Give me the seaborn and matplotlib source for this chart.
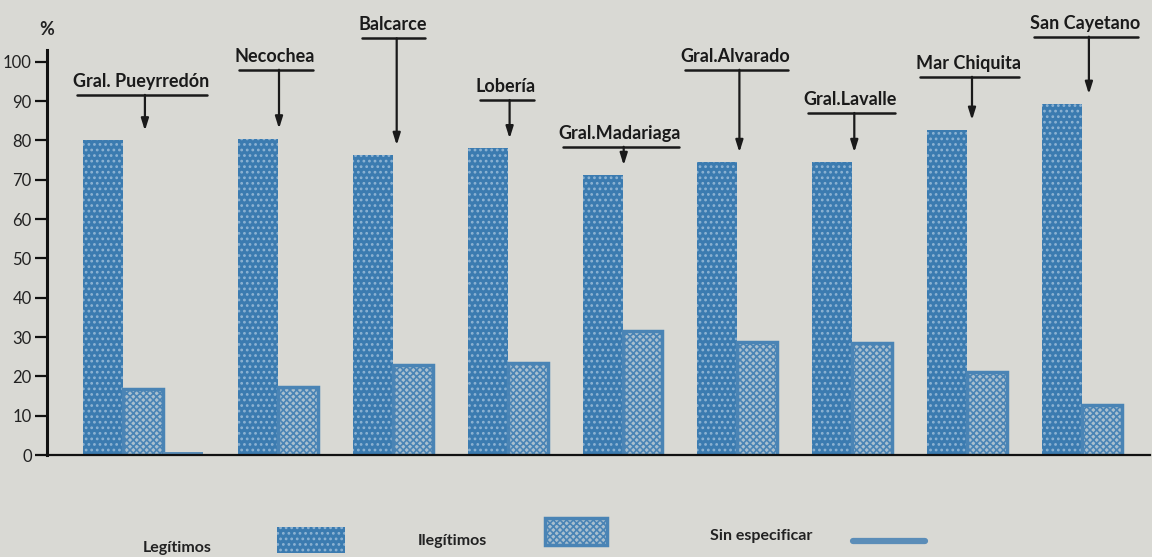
import numpy as np
import pandas as pd
import matplotlib.pyplot as plt
import seaborn as sns
from matplotlib.patches import Rectangle
from matplotlib.lines import Line2D

# datos (porcentaje de nacimientos)
partidos = ["Gral. Pueyrredón", "Necochea", "Balcarce", "Lobería", "Gral.Madariaga",
            "Gral.Alvarado", "Gral.Lavalle", "Mar Chiquita", "San Cayetano"]
legitimos = [80.0, 80.5, 76.3, 78.0, 71.2, 74.5, 74.5, 82.7, 89.3]
ilegitimos = [16.8, 17.3, 22.9, 23.4, 31.5, 28.7, 28.5, 21.0, 12.7]
sin_especificar = [0.8, None, None, None, None, None, None, None, None]
series = ["Legítimos", "Ilegítimos", "Sin especificar"]
y_ticks = [0, 10, 20, 30, 40, 50, 60, 70, 80, 90, 100]

# layout de las etiquetas (altura de la raya, desplazamiento de la flecha)
label_y = [91.6, 98.0, 106.0, 90.3, 78.4, 98.0, 87.0, 96.2, 106.4]
arrow_off = [1.55, 1.03, 1.1, 1.05, 1.03, 1.05, 1.05, 1.12, 1.17]
gap = 0.875

# armar tabla larga: cada barra ocupa un casillero, los grupos solo
# reservan lugar para las series que tienen dato
rows = []
starts = []
start = 0.0
for i, p in enumerate(partidos):
    starts.append(start)
    vals = [legitimos[i], ilegitimos[i], sin_especificar[i]]
    k = 0
    for s, v in zip(series, vals):
        if v is None:
            continue
        rows.append({"partido": p, "serie": s, "valor": v, "pos": start + k + 0.5})
        k += 1
    start += k + gap
df = pd.DataFrame(rows)

bg = "#d9d9d4"
sns.set_style("white")
plt.rcParams["font.family"] = ["Lato", "DejaVu Sans"]
plt.rcParams["hatch.linewidth"] = 1.2

fig = plt.figure(figsize=(11.52, 5.57), dpi=100, facecolor=bg)
ax = fig.add_axes([0.0408, 0.1831, 0.9575, 0.727])
ax.set_facecolor(bg)

c_leg = "#3b7bb0"
c_dots = "#8db3d3"
c_ile = "#a9bfcf"
c_ile_edge = "#4a84b5"
palette = {"Legítimos": c_leg, "Ilegítimos": c_ile, "Sin especificar": "#5b8db8"}
sns.barplot(data=df, x="pos", y="valor", hue="serie", hue_order=series,
            native_scale=True, dodge=False, width=1.0, palette=palette, saturation=1,
            errorbar=None, legend=False, ax=ax)

# tramas tipo "screen" de la impresion (se busca la serie por la posicion)
serie_at = {round(r.pos, 3): r.serie for r in df.itertuples()}
for bar in ax.patches:
    xc = round(bar.get_x() + bar.get_width() / 2, 3)
    lab = serie_at.get(xc)
    if lab == "Legítimos":
        bar.set_hatch("...")
        bar.set_edgecolor(c_dots)
        bar.set_linewidth(0)
    elif lab == "Ilegítimos":
        bar.set_hatch("xxxxx")
        bar.set_edgecolor(c_ile_edge)
        bar.set_linewidth(2.5)
    else:
        bar.set_linewidth(0)

ax.set_xlim(-0.9, 26.7)
ax.set_ylim(0, 103)
ax.set_xticks([])
ax.set_xlabel("")
ax.set_ylabel("")
ax.set_yticks(y_ticks)
ax.set_yticklabels([str(t) for t in y_ticks], fontsize=12, color="#222222")
ax.tick_params(axis="y", direction="out", length=9, width=1.6, color="#111111", pad=2, left=True)
for side in ["top", "right"]:
    ax.spines[side].set_visible(False)
ax.spines["left"].set_linewidth(2.2)
ax.spines["left"].set_color("#111111")
ax.spines["bottom"].set_linewidth(1.6)
ax.spines["bottom"].set_color("#111111")
ax.text(-0.9, 106, "%", fontsize=13, fontweight="bold", ha="center", va="bottom",
        color="#222222", clip_on=False)

# nombres de partido con raya y flecha
texts = []
for i, p in enumerate(partidos):
    xa = starts[i] + arrow_off[i]
    uy = label_y[i]
    ax.annotate("", xy=(xa, legitimos[i] + 2.5), xytext=(xa, uy),
                arrowprops=dict(arrowstyle="-|>,head_length=0.7,head_width=0.22",
                                color="#1a1a1a", lw=1.6, shrinkA=0, shrinkB=0),
                annotation_clip=False)
    t = ax.text(xa - 0.1, uy + 1.3, p, fontsize=13, fontweight="bold", ha="center",
                va="bottom", color="#1a1a1a", clip_on=False)
    texts.append((t, uy))

fig.canvas.draw()
inv = ax.transData.inverted()
for t, uy in texts:
    bb = t.get_window_extent()
    x0 = inv.transform((bb.x0 + 4, 0))[0]
    x1 = inv.transform((bb.x1 - 2, 0))[0]
    ax.plot([x0, x1], [uy, uy], color="#1a1a1a", lw=1.8, clip_on=False)

# leyenda abajo
W, H = 1152, 557
fig.text(143 / W, 1 - 548 / H, "Legítimos", fontsize=11.5, fontweight="bold",
         va="center", color="#222222")
fig.patches.append(Rectangle((277 / W, 1 - 553 / H), 68 / W, 26 / H, transform=fig.transFigure,
                             facecolor=c_leg, edgecolor=c_dots, hatch="...", lw=0))
fig.text(418 / W, 1 - 541 / H, "Ilegítimos", fontsize=11.5, fontweight="bold",
         va="center", color="#222222")
fig.patches.append(Rectangle((545 / W, 1 - 545 / H), 62 / W, 27 / H, transform=fig.transFigure,
                             facecolor=c_ile, edgecolor=c_ile_edge, hatch="xxxxx", lw=2.5))
fig.text(710 / W, 1 - 536 / H, "Sin especificar", fontsize=11.5, fontweight="bold",
         va="center", color="#222222")
fig.lines.append(Line2D([853 / W, 925 / W], [1 - 541 / H, 1 - 541 / H], transform=fig.transFigure,
                        color="#5b8db8", lw=4.5))

plt.savefig("out.png", dpi=100, facecolor=bg)
plt.close()
